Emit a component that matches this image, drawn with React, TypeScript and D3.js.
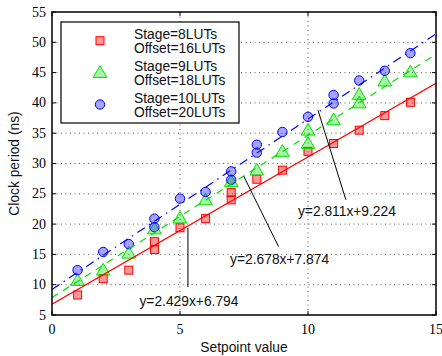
import React from 'react';
import * as d3 from 'd3';

// setpoint / clock period readings for each configuration
const redX = [1, 2, 3, 4, 4, 5, 6, 7, 7, 8, 9, 10, 11, 12, 13, 14];
const redY = [8.3, 11.0, 12.4, 17.1, 15.8, 19.4, 20.9, 25.2, 24.0, 27.4, 28.9, 32.0, 33.3, 35.5, 37.9, 40.1];

const greenX = [1, 2, 3, 4, 5, 6, 7, 8, 9, 10, 10, 11, 12, 12, 13, 14];
const greenY = [10.7, 12.4, 15.2, 19.2, 21.0, 24.0, 27.0, 28.9, 32.0, 35.5, 33.3, 37.2, 41.4, 40.0, 43.6, 45.1];

const blueX = [1, 2, 3, 4, 4, 5, 6, 7, 7, 8, 8, 9, 10, 11, 11, 12, 13, 14];
const blueY = [12.4, 15.4, 16.7, 20.9, 19.5, 24.2, 25.3, 28.7, 27.3, 33.1, 31.8, 35.2, 37.7, 41.3, 39.9, 43.7, 45.3, 48.2];

// linear fits (slope, intercept)
const fitSlopes = [2.429, 2.678, 2.811];
const fitIntercepts = [6.794, 7.874, 9.224];
const fitLabels = ['y=2.429x+6.794', 'y=2.678x+7.874', 'y=2.811x+9.224'];
// annotation leader lines & label anchors, in data units
const leaderFrom = [[5.31, 19.4], [7.49, 27.9], [10.39, 38.8]];
const leaderTo = [[5.31, 9.6], [8.85, 16.3], [11.48, 24.0]];
const labelAt = [[5.35, 7.3], [8.89, 14.2], [11.52, 22.1]];

const legendStage = ['Stage=8LUTs', 'Stage=9LUTs', 'Stage=10LUTs'];
const legendOffset = ['Offset=16LUTs', 'Offset=18LUTs', 'Offset=20LUTs'];

const xTicks = [0, 5, 10, 15];
const yTicks = [5, 10, 15, 20, 25, 30, 35, 40, 45, 50, 55];

const W = 442;
const H = 356;
const left = 52, right = 436, top = 12, bottom = 315;

const sans = '"Liberation Sans", Arial, sans-serif';
const serif = '"Liberation Serif", "Times New Roman", serif';

export default function App() {
  const x = d3.scaleLinear().domain([0, 15]).range([left, right]);
  const y = d3.scaleLinear().domain([5, 55]).range([bottom, top]);

  const series = [
    { xs: redX, ys: redY, stroke: '#ff0000', fill: 'rgba(255,0,0,0.4)', shape: 'square', dash: 'none' },
    { xs: greenX, ys: greenY, stroke: '#00e000', fill: 'rgba(0,230,0,0.35)', shape: 'triangle', dash: '7,6' },
    { xs: blueX, ys: blueY, stroke: '#0000ff', fill: 'rgba(40,40,255,0.42)', shape: 'circle', dash: '9,5,1.5,5' },
  ];

  const line = d3.line<number>().x(d => x(d[0])).y(d => y(d[1]));

  const marker = (shape: string, cx: number, cy: number, stroke: string, fill: string, key: string | number) => {
    if (shape === 'square') {
      return <rect key={key} x={cx - 4} y={cy - 4} width={8} height={8} fill={fill} stroke={stroke} strokeWidth={1} />;
    }
    if (shape === 'triangle') {
      const tri = d3.symbol(d3.symbolTriangle, 80)()!;
      return <path key={key} d={tri} transform={`translate(${cx},${cy + 1})`} fill={fill} stroke={stroke} strokeWidth={1} />;
    }
    return <circle key={key} cx={cx} cy={cy} r={4.7} fill={fill} stroke={stroke} strokeWidth={1} />;
  };

  const legendY = [40.7, 72.5, 104.5];
  const stageBase = [39, 71, 103];

  return (
    <svg width={W} height={H} style={{ position: 'absolute', left: 0, top: 0, background: '#fff' }}>
      <defs>
        <clipPath id="plot">
          <rect x={left} y={top} width={right - left} height={bottom - top} />
        </clipPath>
      </defs>

      {/* grid */}
      <g stroke="#000" strokeWidth={0.8} strokeDasharray="1,3.5" opacity={0.8}>
        {yTicks.slice(1, -1).map(t => (
          <line key={t} x1={left} x2={right} y1={y(t)} y2={y(t)} />
        ))}
        {xTicks.slice(1, -1).map(t => (
          <line key={t} x1={x(t)} x2={x(t)} y1={top} y2={bottom} />
        ))}
      </g>

      {/* markers */}
      {series.map((s, i) => (
        <g key={i}>{s.xs.map((v, j) => marker(s.shape, x(v), y(s.ys[j]), s.stroke, s.fill, j))}</g>
      ))}

      {/* fit lines */}
      <g clipPath="url(#plot)">
        {series.map((s, i) => (
          <path
            key={i}
            d={line([[0, fitIntercepts[i]], [15, fitIntercepts[i] + fitSlopes[i] * 15]])!}
            fill="none"
            stroke={s.stroke}
            strokeWidth={1.2}
            strokeDasharray={s.dash}
          />
        ))}
      </g>

      {/* annotations */}
      {fitLabels.map((lab, i) => (
        <g key={i}>
          <line
            x1={x(leaderFrom[i][0])} y1={y(leaderFrom[i][1])}
            x2={x(leaderTo[i][0])} y2={y(leaderTo[i][1])}
            stroke="#000" strokeWidth={1}
          />
          <text x={x(labelAt[i][0])} y={y(labelAt[i][1]) + 5} textAnchor="middle" fontFamily={sans} fontSize={13.8} fill="#111">
            {lab}
          </text>
        </g>
      ))}

      {/* axes box + inner ticks */}
      <rect x={left} y={top} width={right - left} height={bottom - top} fill="none" stroke="#000" strokeWidth={1.5} />
      <g stroke="#000" strokeWidth={1}>
        {xTicks.map(t => (
          <g key={t}>
            <line x1={x(t)} x2={x(t)} y1={bottom} y2={bottom - 4} />
            <line x1={x(t)} x2={x(t)} y1={top} y2={top + 4} />
          </g>
        ))}
        {yTicks.map(t => (
          <g key={t}>
            <line x1={left} x2={left + 4} y1={y(t)} y2={y(t)} />
            <line x1={right} x2={right - 4} y1={y(t)} y2={y(t)} />
          </g>
        ))}
      </g>

      {/* tick labels */}
      <g fontFamily={serif} fontSize={14} fill="#000">
        {xTicks.map(t => (
          <text key={t} x={x(t)} y={bottom + 19} textAnchor="middle">{t}</text>
        ))}
        {yTicks.map(t => (
          <text key={t} x={left - 6} y={y(t) + 4.5} textAnchor="end">{t}</text>
        ))}
      </g>

      {/* axis labels */}
      <text x={(left + right) / 2} y={352} textAnchor="middle" fontFamily={sans} fontSize={13.8} fill="#111">
        Setpoint value
      </text>
      <text transform={`translate(19,${(top + bottom) / 2}) rotate(-90)`} textAnchor="middle" fontFamily={sans} fontSize={13.8} fill="#111">
        Clock period (ns)
      </text>

      {/* legend */}
      <rect x={61} y={22} width={178} height={101} fill="#fff" stroke="#000" strokeWidth={1.2} />
      {series.map((s, i) => (
        <g key={i}>
          {marker(s.shape, 100, legendY[i], s.stroke, s.fill, 'm')}
          <text x={134} y={stageBase[i]} fontFamily={sans} fontSize={13.8} fill="#111">{legendStage[i]}</text>
          <text x={134} y={stageBase[i] + 14} fontFamily={sans} fontSize={13.8} fill="#111">{legendOffset[i]}</text>
        </g>
      ))}
    </svg>
  );
}
